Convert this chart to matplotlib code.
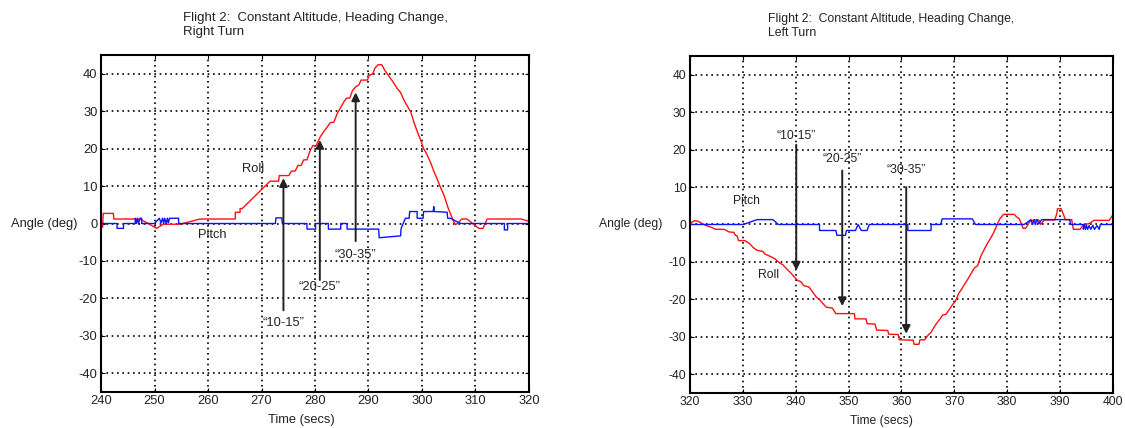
import matplotlib
matplotlib.use('Agg')
import matplotlib.pyplot as plt
from matplotlib.transforms import blended_transform_factory

plt.rcParams['font.family'] = ['Liberation Sans', 'DejaVu Sans']
plt.rcParams['axes.unicode_minus'] = False

# ---- right turn (left panel) ----
r_roll_t = [240.0, 240.3, 240.4, 242.3, 242.4, 247.3, 250.4, 251.6, 254.8, 258.5,
            265.1, 265.1, 266.0, 266.0, 266.4, 271.6, 273.2, 273.3, 275.1,
            275.6, 276.3, 276.8, 277.4, 277.9, 278.5, 279.1, 279.6, 280.2, 281.0,
            281.6, 282.2, 282.9, 283.5, 284.2, 284.8, 285.4, 285.9, 286.5, 287.0,
            287.6, 288.2, 288.6, 289.8, 290.1, 290.8, 291.2, 291.8, 292.5, 293.0,
            293.5, 294.5, 295.4, 296.0, 296.6, 297.2, 297.9, 298.5, 299.0, 299.7,
            300.3, 300.9, 301.6, 302.2, 302.8, 303.5, 304.1, 304.8, 305.4, 306.0,
            306.3, 307.0, 307.4, 308.4, 310.0, 310.6, 311.4, 312.2, 318.5, 320.0]
r_roll = [-1.0, -1.0, 2.7, 2.7, 1.2, 1.2, -1.3, -0.2, -0.2, 1.2,
          1.2, 3.0, 3.0, 4.0, 4.0, 11.3, 11.3, 12.8, 12.8,
          14.0, 14.0, 15.5, 15.5, 17.0, 17.0, 19.5, 20.8, 20.8, 23.2,
          24.5, 25.6, 27.0, 27.0, 29.5, 31.0, 32.5, 33.5, 33.5, 35.5,
          36.5, 37.0, 38.3, 38.3, 39.5, 40.0, 41.5, 42.4, 42.4, 41.0,
          40.0, 38.0, 36.0, 35.0, 33.0, 31.5, 29.8, 27.0, 25.0, 22.5,
          20.0, 18.5, 16.3, 14.0, 12.0, 9.5, 7.6, 4.5, 2.3, 0.3,
          -0.3, 0.5, 1.2, 1.2, -0.6, -1.3, -1.3, 1.2, 1.2, 0.6]

r_pitch_t = [240.0, 243.0, 243.0, 244.2, 244.2, 246.4, 246.4, 246.6, 246.8, 247.0,
             247.3, 247.6, 247.6, 250.0, 250.9, 251.2, 251.5, 251.7, 251.9, 252.2,
             252.4, 252.6, 252.8, 254.5, 254.5, 272.6, 272.7, 273.8, 273.9, 278.5,
             278.5, 280.1, 280.1, 282.5, 282.5, 284.8, 284.8, 286.0, 286.0, 291.9,
             292.0, 296.0, 296.1, 296.9, 297.6, 297.7, 299.1, 299.1, 300.2, 300.3,
             302.1, 302.2, 302.3, 304.7, 304.8, 305.3, 307.2, 315.4, 315.4, 316.0,
             316.0, 320.0]
r_pitch = [0.0, 0.0, -1.3, -1.3, 0.0, 0.0, 1.4, 0.0, 1.4, 0.0,
           1.4, 1.4, 0.0, 0.0, 1.4, 0.2, 1.4, 0.0, 1.4, 0.0,
           1.4, 0.2, 1.4, 1.4, 0.0, 0.0, 1.5, 1.5, 0.0, 0.0,
           -1.5, -1.5, 0.0, 0.0, -1.5, -1.5, 0.0, 0.0, -1.5, -1.5,
           -3.8, -3.3, -1.3, 1.4, 1.4, 3.2, 3.2, 1.4, 1.4, 3.2,
           3.2, 4.5, 3.2, 3.0, 1.4, 1.4, 0.0, 0.0, -1.7, -1.7,
           0.0, 0.0]

# ---- left turn (right panel) ----
l_roll_t = [320.0, 320.8, 321.5, 322.9, 324.3, 324.9, 326.5, 327.4, 328.3, 328.6,
            328.9, 329.2, 330.4, 331.2, 332.0, 332.7, 333.8, 334.2, 335.3, 336.1,
            336.9, 337.6, 338.4, 339.0, 339.6, 340.3, 341.0, 341.5, 342.5, 343.2,
            343.9, 344.6, 345.2, 345.8, 346.9, 347.6, 351.1, 351.2, 353.3, 353.5,
            355.0, 355.3, 357.4, 357.6, 359.4, 359.6, 362.2, 362.4, 363.3, 363.5,
            364.4, 365.0, 365.6, 366.0, 366.6, 367.2, 367.8, 368.4, 369.0, 369.6,
            370.2, 370.8, 371.4, 372.0, 372.6, 373.2, 373.8, 374.4, 375.0, 375.6,
            376.2, 376.8, 377.5, 378.0, 378.6, 379.3, 381.3, 381.8, 382.3, 383.0,
            383.5, 384.3, 385.0, 386.0, 386.3, 387.0, 389.0, 389.4, 389.5, 390.2,
            390.6, 391.0, 392.2, 392.5, 393.8, 394.4, 395.5, 396.4, 399.3, 400.0]
l_roll = [0.3, 1.0, 0.9, -0.2, -0.9, -1.3, -1.3, -2.0, -2.1, -2.9,
          -3.0, -4.3, -4.3, -5.0, -6.2, -6.9, -7.2, -7.9, -8.6, -9.2,
          -10.2, -10.8, -12.0, -12.8, -13.8, -14.9, -15.3, -16.3, -16.7, -18.0,
          -19.4, -20.2, -21.2, -22.1, -22.3, -23.8, -23.8, -25.2, -25.2, -26.5,
          -26.6, -28.2, -28.3, -29.3, -29.4, -30.8, -30.9, -32.0, -32.0, -30.8,
          -30.8, -29.6, -28.8, -27.8, -26.5, -25.4, -24.2, -24.0, -22.8, -21.5,
          -20.5, -18.5, -17.2, -15.8, -14.5, -13.0, -11.6, -11.0, -8.5, -6.8,
          -5.2, -3.8, -2.0, -0.3, 1.5, 2.7, 2.7, 2.0, 1.5, -1.0,
          -1.0, 0.8, 1.2, 1.2, 0.0, 1.2, 1.2, 3.0, 4.2, 4.2,
          2.8, 1.3, 1.3, -1.3, -1.3, 0.0, 0.2, 1.1, 1.1, 2.6]

l_pitch_t = [320.0, 330.1, 332.7, 335.7, 336.7, 344.5, 344.5, 347.6, 347.8, 349.4,
             349.6, 351.3, 351.8, 352.4, 353.5, 353.9, 361.2, 361.2, 365.6, 365.6,
             367.4, 367.7, 373.4, 374.0, 383.2, 384.5, 384.8, 385.1, 385.3, 385.6,
             386.0, 386.5, 391.8, 392.0, 394.4, 394.4, 394.6, 394.8, 395.0, 395.2,
             395.5, 395.8, 396.2, 396.5, 397.0, 397.4, 397.6, 400.0]
l_pitch = [0.0, 0.0, 1.3, 1.3, 0.0, 0.0, -1.6, -1.6, -2.9, -2.9,
           -1.6, -1.6, 0.0, -1.6, -1.6, 0.0, 0.0, -1.6, -1.6, 0.0,
           0.0, 1.5, 1.5, 0.0, 0.0, 1.3, 0.0, 1.3, 0.0, 1.3,
           0.2, 1.3, 1.3, 0.0, 0.0, -1.3, 0.0, -1.3, -0.2, -1.3,
           -0.3, -1.3, -0.2, -1.3, -0.3, -1.3, 0.0, 0.0]

# bank angle call-outs: (time, arrow tip, arrow tail, label y)
r_calls = ['\u201c10-15\u201d', '\u201c20-25\u201d', '\u201c30-35\u201d']
r_call_t = [274.1, 280.9, 287.6]
r_call_tip = [12.1, 22.3, 35.0]
r_call_tail = [-23.2, -15.1, -4.7]
r_call_lab = [-26.5, -17.0, -8.4]

l_calls = ['\u201c10-15\u201d', '\u201c20-25\u201d', '\u201c30-35\u201d']
l_call_t = [340.1, 348.8, 360.9]
l_call_tip = [-12.3, -21.8, -29.2]
l_call_tail = [21.3, 14.4, 10.0]
l_call_lab = [23.5, 17.5, 14.5]

fig = plt.figure(figsize=(11.25, 4.28), dpi=100)
ax1 = fig.add_axes([0.0898, 0.0841, 0.3804, 0.7874])
ax2 = fig.add_axes([0.6133, 0.0818, 0.3760, 0.7874])

txt = '#222222'


def setup(ax, x0, x1, fs):
    ax.set_xlim(x0, x1)
    ax.set_ylim(-45, 45)
    ax.set_xticks(range(x0, x1 + 1, 10))
    ax.set_yticks(range(-40, 41, 10))
    ax.grid(True, color='black', linestyle=(0, (1, 2.2)), linewidth=1.2)
    ax.tick_params(direction='in', length=3, top=True, right=True,
                   labelsize=fs, labelcolor=txt, pad=2.5)
    for s in ax.spines.values():
        s.set_linewidth(1.5)


def calls(ax, names, ts, tips, tails, labs, fs):
    for name, t, tip, tail, lab in zip(names, ts, tips, tails, labs):
        ax.annotate('', xy=(t, tip), xytext=(t, tail),
                    arrowprops=dict(arrowstyle='-|>', color='#222222', lw=1.4,
                                    mutation_scale=12, shrinkA=0, shrinkB=0))
        ax.text(t, lab, name, ha='center', va='center', fontsize=fs, color=txt)


# left panel
setup(ax1, 240, 320, 9.3)
ax1.plot(r_roll_t, r_roll, color='#ff1010', lw=1.0)
ax1.plot(r_pitch_t, r_pitch, color='#0a14ff', lw=1.0)
calls(ax1, r_calls, r_call_t, r_call_tip, r_call_tail, r_call_lab, 9.3)
ax1.text(268.5, 14.5, 'Roll', ha='center', va='center', fontsize=9.3, color=txt)
ax1.text(260.7, -3.2, 'Pitch', ha='center', va='center', fontsize=9.3, color=txt)
ax1.text(0.5, 1.05, 'Flight 2:  Constant Altitude, Heading Change,\nRight Turn',
         transform=ax1.transAxes, ha='center', va='bottom', multialignment='left',
         fontsize=9.5, color=txt)
ax1.text(0.467, -0.083, 'Time (secs)', transform=ax1.transAxes, ha='center',
         va='center', fontsize=9.3, color=txt)
tr1 = blended_transform_factory(ax1.transAxes, ax1.transData)
ax1.text(-0.054, 0, 'Angle (deg)', transform=tr1, ha='right', va='center',
         fontsize=9.3, color=txt)

# right panel
setup(ax2, 320, 400, 8.7)
ax2.plot(l_roll_t, l_roll, color='#ff1010', lw=1.0)
ax2.plot(l_pitch_t, l_pitch, color='#0a14ff', lw=1.0)
calls(ax2, l_calls, l_call_t, l_call_tip, l_call_tail, l_call_lab, 8.7)
ax2.text(334.9, -13.4, 'Roll', ha='center', va='center', fontsize=8.7, color=txt)
ax2.text(330.6, 6.3, 'Pitch', ha='center', va='center', fontsize=8.7, color=txt)
ax2.text(0.475, 1.05, 'Flight 2:  Constant Altitude, Heading Change,\nLeft Turn',
         transform=ax2.transAxes, ha='center', va='bottom', multialignment='left',
         fontsize=8.8, color=txt)
ax2.text(0.453, -0.083, 'Time (secs)', transform=ax2.transAxes, ha='center',
         va='center', fontsize=8.7, color=txt)
tr2 = blended_transform_factory(ax2.transAxes, ax2.transData)
ax2.text(-0.066, 0, 'Angle (deg)', transform=tr2, ha='right', va='center',
         fontsize=8.7, color=txt)

fig.savefig('out.png', dpi=100)
